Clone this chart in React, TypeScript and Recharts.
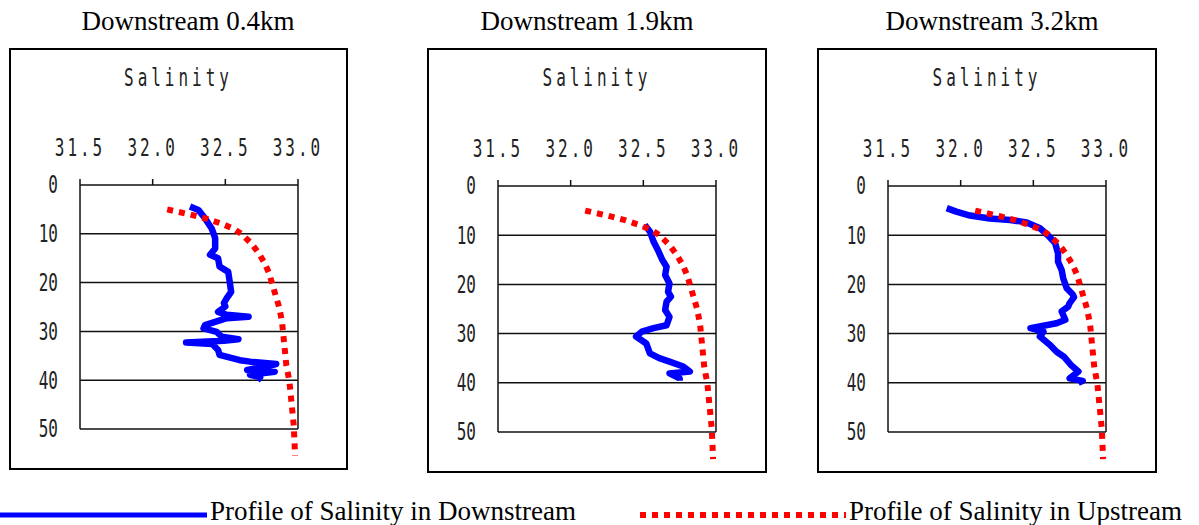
import { ScatterChart, Scatter, XAxis, YAxis, ReferenceLine } from 'recharts';

const SALINITY_TICKS = [31.5, 32.0, 32.5, 33.0];
const DEPTH_TICKS = [0, 10, 20, 30, 40, 50];
const GRID_DEPTHS = [10, 20, 30, 40, 50];

// upstream profile (same reference curve in every panel)
const UP_DEPTH = [5, 6, 7, 8, 9, 10, 12, 14, 16, 18, 20, 22, 25, 28, 31, 34, 37, 40, 43, 46, 49, 52, 55.5];
const UP_SAL = [32.10, 32.25, 32.38, 32.48, 32.56, 32.61, 32.68, 32.73, 32.77, 32.80, 32.82, 32.84, 32.87, 32.89, 32.90, 32.91, 32.92, 32.94, 32.95, 32.96, 32.97, 32.975, 32.98];

// downstream 0.4km
const D04_DEPTH = [4.4, 5.1, 6.8, 8.9, 10.9, 13.0, 14.3, 15.0, 16.7, 17.8, 19.8, 21.9, 23.2, 24.2, 24.9, 26.0, 26.6, 27.0, 27.3, 28.7, 29.4, 30.1, 31.1, 31.6, 31.9, 32.3, 32.6, 33.8, 34.8, 35.9, 36.2, 36.7, 37.2, 37.9, 38.3, 38.9, 39.4, 40.0];
const D04_SAL = [32.257, 32.314, 32.36, 32.406, 32.43, 32.43, 32.395, 32.45, 32.46, 32.52, 32.53, 32.54, 32.51, 32.49, 32.50, 32.45, 32.51, 32.66, 32.51, 32.36, 32.35, 32.44, 32.475, 32.59, 32.49, 32.23, 32.41, 32.45, 32.46, 32.60, 32.67, 32.85, 32.78, 32.65, 32.84, 32.67, 32.74, 32.72];

// downstream 1.9km
const D19_DEPTH = [7.9, 9.3, 11.3, 13.0, 15.0, 16.4, 18.1, 19.8, 21.5, 22.5, 23.5, 25.2, 26.6, 28.3, 28.9, 29.6, 30.6, 32.0, 34.0, 35.0, 35.7, 36.7, 37.7, 38.1, 39.1, 39.6];
const D19_SAL = [32.51, 32.546, 32.57, 32.60, 32.63, 32.66, 32.65, 32.68, 32.67, 32.69, 32.66, 32.65, 32.68, 32.66, 32.57, 32.49, 32.45, 32.52, 32.545, 32.61, 32.68, 32.775, 32.82, 32.68, 32.75, 32.75];

// downstream 3.2km
const D32_DEPTH = [4.5, 5.2, 6.0, 6.6, 6.9, 7.4, 8.6, 10.0, 11.6, 13.7, 15.4, 17.1, 18.8, 20.8, 22.0, 22.6, 23.8, 24.5, 25.5, 27.2, 27.9, 28.9, 29.6, 30.6, 32.3, 33.7, 34.7, 36.4, 37.7, 39.1, 39.6, 40.0];
const D32_SAL = [31.904, 31.97, 32.064, 32.20, 32.34, 32.454, 32.546, 32.60, 32.65, 32.67, 32.67, 32.695, 32.706, 32.73, 32.77, 32.78, 32.75, 32.74, 32.695, 32.72, 32.66, 32.48, 32.57, 32.545, 32.615, 32.66, 32.71, 32.76, 32.81, 32.75, 32.84, 32.81];

const zip = (depth: number[], sal: number[]) => depth.map((d, i) => ({ d, s: sal[i] }));

const upstream = zip(UP_DEPTH, UP_SAL);

const PANELS = [
  { title: 'Downstream 0.4km', data: zip(D04_DEPTH, D04_SAL), headX: 188, box: { l: 9, t: 48, w: 339, h: 422 }, plotLeft: 80, plotTop: 185, unit: 4.88 },
  { title: 'Downstream 1.9km', data: zip(D19_DEPTH, D19_SAL), headX: 587, box: { l: 427, t: 48, w: 340, h: 425 }, plotLeft: 498, plotTop: 186, unit: 4.92 },
  { title: 'Downstream 3.2km', data: zip(D32_DEPTH, D32_SAL), headX: 992, box: { l: 817, t: 48, w: 340, h: 425 }, plotLeft: 888, plotTop: 186, unit: 4.92 }
];

const MONO = '"DejaVu Sans Mono", monospace';
const SERIF = '"Liberation Serif", "Times New Roman", serif';
const PLOT_W = 218;
const Y_W = 60;
const X_H = 60;
const R_PAD = 34;

const TopTick = ({ x, y, payload }: any) => (
  <text transform={`translate(${x},${y}) scale(1,1.5)`} textAnchor="middle" fontFamily={MONO} fontSize={16} letterSpacing={3} fill="#222">
    {Number(payload.value).toFixed(1)}
  </text>
);

const LeftTick = ({ x, y, payload }: any) => (
  <text transform={`translate(${x},${y + 8.5}) scale(1,1.5)`} textAnchor="end" fontFamily={MONO} fontSize={16} fill="#222">
    {payload.value}
  </text>
);

const noDot = () => <g />;

function ProfileChart({ panel }: { panel: (typeof PANELS)[number] }) {
  const plotH = 56 * panel.unit;
  return (
    <div style={{ position: 'absolute', left: panel.plotLeft - Y_W, top: panel.plotTop - X_H }}>
      <ScatterChart width={Y_W + PLOT_W + R_PAD} height={X_H + plotH + 10} margin={{ top: 0, right: R_PAD, bottom: 10, left: 0 }}>
        <XAxis
          type="number"
          dataKey="s"
          orientation="top"
          domain={[31.5, 33]}
          ticks={SALINITY_TICKS}
          height={X_H}
          tickSize={6}
          tickMargin={23}
          tick={<TopTick />}
          axisLine={{ stroke: '#111', strokeWidth: 1.5 }}
          tickLine={{ stroke: '#111', strokeWidth: 1.5 }}
        />
        <YAxis
          type="number"
          dataKey="d"
          reversed
          domain={[0, 56]}
          ticks={DEPTH_TICKS}
          width={Y_W}
          tickSize={0}
          tickMargin={22}
          tick={<LeftTick />}
          axisLine={false}
          tickLine={false}
        />
        {GRID_DEPTHS.map((d) => (
          <ReferenceLine key={d} y={d} stroke="#111" strokeWidth={1.5} />
        ))}
        <ReferenceLine segment={[{ x: 31.5, y: 0 }, { x: 31.5, y: 50 }]} stroke="#111" strokeWidth={1.5} />
        <ReferenceLine segment={[{ x: 33, y: 0 }, { x: 33, y: 50 }]} stroke="#111" strokeWidth={1.5} />
        <Scatter
          data={panel.data}
          line={{ stroke: '#0000ff', strokeWidth: 6.5, strokeLinejoin: 'round' }}
          lineType="joint"
          shape={noDot}
          fill="#0000ff"
          isAnimationActive={false}
        />
        <Scatter
          data={upstream}
          line={{ stroke: '#ff0000', strokeWidth: 6, strokeDasharray: '6 6' }}
          lineType="joint"
          shape={noDot}
          fill="#ff0000"
          isAnimationActive={false}
        />
      </ScatterChart>
    </div>
  );
}

export default function App() {
  return (
    <div style={{ position: 'absolute', left: 0, top: 0, width: 1199, height: 525, background: '#fff', overflow: 'hidden' }}>
      <svg width={1199} height={525} style={{ position: 'absolute', left: 0, top: 0 }}>
        {PANELS.map((p) => (
          <g key={p.title}>
            <text x={p.headX} y={30} textAnchor="middle" fontFamily={SERIF} fontSize={27} fill="#000">{p.title}</text>
            <rect x={p.box.l + 1} y={p.box.t + 1} width={p.box.w - 2} height={p.box.h - 2} fill="none" stroke="#000" strokeWidth={2} />
            <text transform={`translate(${p.box.l + p.box.w / 2},86) scale(1,1.5)`} textAnchor="middle" fontFamily={MONO} fontSize={16} letterSpacing={4} fill="#222">
              Salinity
            </text>
          </g>
        ))}
        <line x1={0} y1={515} x2={207} y2={515} stroke="#0000ff" strokeWidth={5} />
        <text x={210} y={520} fontFamily={SERIF} fontSize={27} fill="#000">Profile of Salinity in Downstream</text>
        <line x1={640} y1={515} x2={846} y2={515} stroke="#ff0000" strokeWidth={6} strokeDasharray="6 6" />
        <text x={849} y={520} fontFamily={SERIF} fontSize={27} fill="#000">Profile of Salinity in Upstream</text>
      </svg>
      {PANELS.map((p) => (
        <ProfileChart key={p.title} panel={p} />
      ))}
    </div>
  );
}
